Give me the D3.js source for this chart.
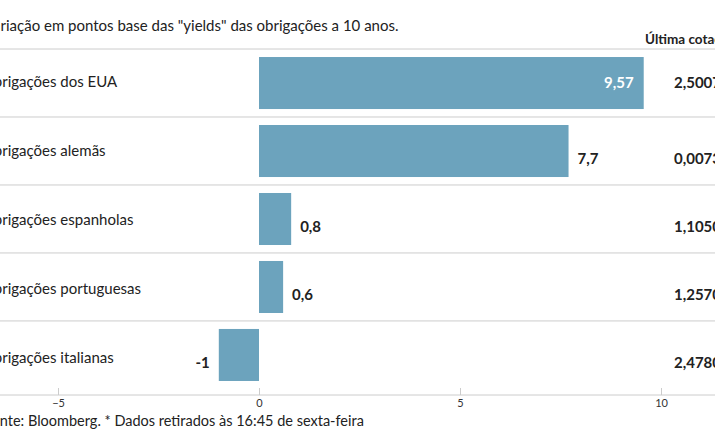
<!DOCTYPE html>
<html><head><meta charset="utf-8">
<style>body{margin:0;background:#fff;overflow:hidden} text{font-family:Lato,"Open Sans",sans-serif}</style>
</head><body>
<script src="https://d3js.org/d3.v7.min.js"></script>
<script>
var categories = ["Obrigações dos EUA","Obrigações alemãs","Obrigações espanholas","Obrigações portuguesas","Obrigações italianas"];
var values = [9.57, 7.7, 0.8, 0.6, -1];
var labels = ["9,57","7,7","0,8","0,6","-1"];
var lastQuote = ["2,5007%","0,0073%","1,1050%","1,2570%","2,4780%"];
var ticks = [-5, 0, 5, 10];

var svg = d3.select("body").append("svg").attr("width",715).attr("height",445);
var x = d3.scaleLinear().domain([-5,10]).range([58,661]);
var y = d3.scaleBand().domain(categories).range([49,389]).paddingInner(0.235).paddingOuter(0.118);
var step = y.step();

svg.append("text").attr("x",-16).attr("y",31).attr("font-size",15).attr("fill","#222")
  .text('Variação em pontos base das "yields" das obrigações a 10 anos.');
svg.append("text").attr("x",645).attr("y",44).attr("font-size",13.5).attr("font-weight","bold").attr("fill","#222")
  .text("Última cotação*");

// linhas entre linhas
svg.selectAll("line.sep").data(categories).enter().append("line")
  .attr("x1",0).attr("x2",715)
  .attr("y1",function(d,i){return 49+i*step;}).attr("y2",function(d,i){return 49+i*step;})
  .attr("stroke","#ccc");

svg.selectAll("rect.bar").data(values).enter().append("rect")
  .attr("x",function(d){return x(Math.min(0,d));})
  .attr("width",function(d){return Math.abs(x(d)-x(0));})
  .attr("y",function(d,i){return y(categories[i]);})
  .attr("height",y.bandwidth())
  .attr("fill","#6ca3bd");

svg.selectAll("text.cat").data(categories).enter().append("text")
  .attr("x",-18).attr("y",function(d,i){return y(d)+y.bandwidth()/2+4+i;})
  .attr("font-size",15).attr("fill","#222").text(function(d){return d;});

svg.selectAll("text.val").data(values).enter().append("text")
  .attr("x",function(d){ return d>9 ? x(d)-10 : (d<0 ? x(d)-9 : x(d)+9); })
  .attr("text-anchor",function(d){return d>9||d<0 ? "end" : "start";})
  .attr("y",function(d,i){return y(categories[i])+y.bandwidth()/2+5+(d>9?0:8);})
  .attr("font-size",15).attr("font-weight","bold")
  .attr("fill",function(d){return d>9 ? "#fff" : "#222";})
  .text(function(d,i){return labels[i];});

svg.selectAll("text.lq").data(lastQuote).enter().append("text")
  .attr("x",674).attr("y",function(d,i){return y(categories[i])+y.bandwidth()/2+5+(i>0?8:0);})
  .attr("font-size",15).attr("font-weight","bold").attr("fill","#222").text(function(d){return d;});

var axis = svg.append("g").attr("transform","translate(0,395)")
  .call(d3.axisBottom(x).tickValues(ticks).tickSize(-7).tickPadding(6).tickFormat(d3.format("d")));
axis.select(".domain").remove();
axis.append("line").attr("x1",0).attr("x2",715).attr("stroke","#ccc");
axis.selectAll(".tick line").attr("stroke","#ccc");
axis.selectAll(".tick text").attr("font-size",11).attr("fill","#333").attr("dy","0.5em");

svg.append("text").attr("x",-16).attr("y",426).attr("font-size",14.5).attr("fill","#222")
  .text("Fonte: Bloomberg.  * Dados retirados às 16:45 de sexta-feira");
</script>
</body></html>
